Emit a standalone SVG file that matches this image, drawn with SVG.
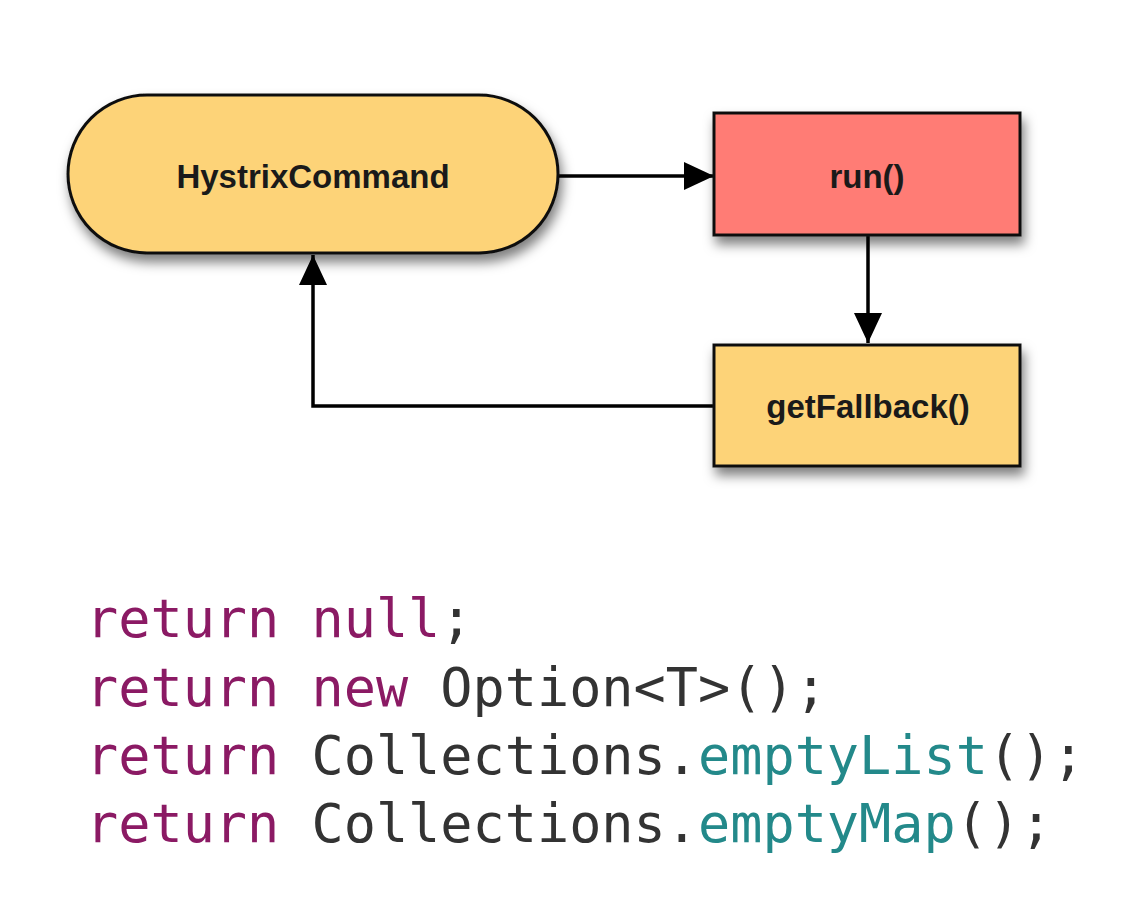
<svg xmlns="http://www.w3.org/2000/svg" width="1146" height="916" viewBox="0 0 1146 916">
<defs>
<filter id="sh" x="-10%" y="-20%" width="125%" height="160%">
<feDropShadow dx="3" dy="8" stdDeviation="6" flood-color="#000" flood-opacity="0.5"/>
</filter>
<marker id="ah2" viewBox="0 0 30 28" refX="30" refY="14" markerWidth="30" markerHeight="28" markerUnits="userSpaceOnUse" orient="auto">
<path d="M0,0 L30,14 L0,28 z" fill="#000"/>
</marker>
<style>
.node{stroke:#111;stroke-width:3}
.lbl{font-family:"Liberation Sans",Arial,sans-serif;font-weight:bold;font-size:33px;fill:#1a1a1a;text-anchor:middle}
.conn{fill:none;stroke:#000;stroke-width:3.5}
.code{font-family:"DejaVu Sans Mono","Liberation Mono",monospace;font-size:53.5px;fill:#333}
.kw{fill:#8b1a64}
.fn{fill:#23898a}
</style>
</defs>
<rect width="1146" height="916" fill="#fff"/>
<g id="connectors">
<path class="conn" d="M558,176 L714,176" marker-end="url(#ah2)"/>
<path class="conn" d="M868,235 L868,343" marker-end="url(#ah2)"/>
<path class="conn" d="M714,406 L313,406 L313,255" marker-end="url(#ah2)"/>
</g>
<g id="hystrixcommand">
<rect class="node" x="68" y="95" width="490" height="158" rx="79" ry="79" fill="#fdd378" filter="url(#sh)"/>
<text class="lbl" x="313" y="188">HystrixCommand</text>
</g>
<g id="run">
<rect class="node" x="714" y="113" width="306" height="122" fill="#ff7c75" filter="url(#sh)"/>
<text class="lbl" x="867" y="188">run()</text>
</g>
<g id="getfallback">
<rect class="node" x="714" y="345" width="306" height="121" fill="#fdd378" filter="url(#sh)"/>
<text class="lbl" x="868" y="418">getFallback()</text>
</g>
<g id="code">
<text class="code" x="86" y="637"><tspan class="kw">return null</tspan>;</text>
<text class="code" x="86" y="706"><tspan class="kw">return new</tspan> Option&lt;T&gt;();</text>
<text class="code" x="86" y="774"><tspan class="kw">return</tspan> Collections.<tspan class="fn">emptyList</tspan>();</text>
<text class="code" x="86" y="842"><tspan class="kw">return</tspan> Collections.<tspan class="fn">emptyMap</tspan>();</text>
</g>
</svg>
